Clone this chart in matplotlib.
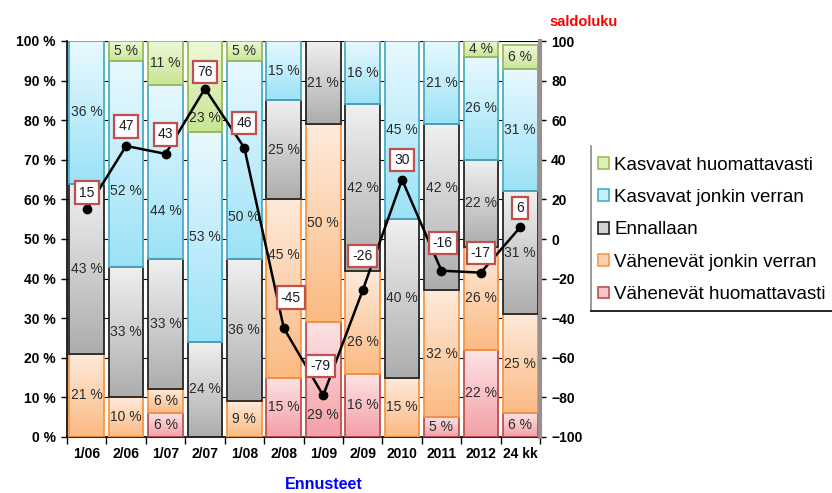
import numpy as np
import matplotlib.pyplot as plt
from matplotlib.colors import to_rgb
from matplotlib.patches import Patch
from matplotlib.lines import Line2D

plt.rcParams['font.family'] = ['Liberation Sans', 'DejaVu Sans']

periods = ['1/06', '2/06', '1/07', '2/07', '1/08', '2/08', '1/09', '2/09',
           '2010', '2011', '2012', '24 kk']

# answer shares in %, stacked from the bottom up
vah_huom = [0, 0, 6, 0, 0, 15, 29, 16, 0, 5, 22, 6]
vah_jonk = [21, 10, 6, 0, 9, 45, 50, 26, 15, 32, 26, 25]
ennallaan = [43, 33, 33, 24, 36, 25, 21, 42, 40, 42, 22, 31]
kas_jonk = [36, 52, 44, 53, 50, 15, 0, 16, 45, 21, 26, 31]
kas_huom = [0, 5, 11, 23, 5, 0, 0, 0, 0, 0, 4, 6]

# balance figure (saldoluku), right axis
saldo = [15, 47, 43, 76, 46, -45, -79, -26, 30, -16, -17, 6]

# name, values, gradient top, gradient bottom, edge, legend face
series = [
    ('Vähenevät huomattavasti', vah_huom, '#fde3e5', '#f3a0a6', '#c0504d', '#f7c3c6'),
    ('Vähenevät jonkin verran', vah_jonk, '#feeadb', '#fbba82', '#f79646', '#fcd2ad'),
    ('Ennallaan', ennallaan, '#f0f0f0', '#adadad', '#262626', '#d2d2d2'),
    ('Kasvavat jonkin verran', kas_jonk, '#e8f9fe', '#9ce2f7', '#4bacc6', '#c3eefb'),
    ('Kasvavat huomattavasti', kas_huom, '#eef9d8', '#c8e594', '#9bbb59', '#dcf1b6'),
]

# label nudges for the balance boxes (points)
label_dx = [0, 0, 0, 0, 0, 5, -2, 0, 0, 1, 0, 0]
label_dy = [12, 14, 14, 12, 18, 22, 21, 25, 14, 20, 14, 14]
# segment labels moved off the line (series index, period index) -> shift in %
seg_shift = {(3, 1): -7, (3, 2): -10, (3, 4): -14.5, (4, 3): -8,
             (1, 5): 8.5, (1, 7): -5, (0, 6): -9, (2, 9): 5}

fig = plt.figure(figsize=(8.32, 4.93), dpi=100)
ax = fig.add_axes([67 / 832, 1 - 437 / 493, 473 / 832, 396 / 493])
x = np.arange(len(periods))
w = 0.88


def gradient(c_top, c_bot, n=64):
    t = np.linspace(0, 1, n)[:, None]
    top = np.array(to_rgb(c_top))
    bot = np.array(to_rgb(c_bot))
    return (bot * (1 - t) + top * t)[:, None, :]


bottom = np.zeros(len(periods))
for k, (name, vals, c_top, c_bot, edge, face) in enumerate(series):
    vals = np.array(vals, dtype=float)
    img = gradient(c_top, c_bot)
    for i, v in enumerate(vals):
        if v <= 0:
            continue
        ax.imshow(img, extent=(x[i] - w / 2, x[i] + w / 2, bottom[i], bottom[i] + v),
                  origin='lower', aspect='auto', interpolation='bilinear', zorder=2)
        ax.text(x[i], bottom[i] + v / 2 + seg_shift.get((k, i), 0), f'{int(v)} %',
                ha='center', va='center', fontsize=10, color='#2b2b2b', zorder=4)
    ax.bar(x[vals > 0], vals[vals > 0], bottom=bottom[vals > 0], width=w,
           facecolor='none', edgecolor=edge, linewidth=1.3, zorder=3)
    bottom += vals

ax.set_xlim(-0.5, len(periods) - 0.5)
ax.set_ylim(0, 100)
ax.set_yticks(np.arange(0, 101, 10))
ax.set_yticklabels([f'{v} %' for v in range(0, 101, 10)])
ax.set_axisbelow(True)
ax.yaxis.grid(True, color='black', linewidth=0.8)
ax.set_xticks(x)
ax.set_xticklabels(periods)
ax.set_xticks(np.arange(-0.5, len(periods), 1), minor=True)
ax.tick_params(axis='x', which='major', length=0, pad=7)
ax.tick_params(axis='x', which='minor', length=5, width=1, direction='out')
ax.tick_params(axis='y', length=4, width=1, direction='out', pad=4)
for lab in ax.get_xticklabels() + ax.get_yticklabels():
    lab.set_fontweight('bold')
    lab.set_fontsize(10)
ax.spines['top'].set_visible(False)
ax.spines['right'].set_visible(False)
ax.spines['left'].set_linewidth(1.2)
ax.spines['bottom'].set_linewidth(1.2)

ax2 = ax.twinx()
ax2.set_ylim(-100, 100)
ax2.set_yticks(np.arange(-100, 101, 20))
ax2.tick_params(axis='y', length=4, width=1, direction='out', pad=4)
for lab in ax2.get_yticklabels():
    lab.set_fontweight('bold')
    lab.set_fontsize(10)
for s in ['top', 'left', 'bottom']:
    ax2.spines[s].set_visible(False)
ax2.spines['right'].set_color('#9a9090')
ax2.spines['right'].set_linewidth(3)

ax2.plot(x, saldo, color='black', linewidth=1.8, marker='o', markersize=6, zorder=5)
for i, v in enumerate(saldo):
    ax2.annotate(str(v), (x[i], v), xytext=(label_dx[i], label_dy[i]),
                 textcoords='offset points', ha='center', va='center', fontsize=10,
                 color='#1a1a1a', zorder=6,
                 bbox=dict(boxstyle='square,pad=0.3', facecolor='white',
                           edgecolor='#c0504d', linewidth=1.6))

fig.text(549 / 832, 1 - 22 / 493, 'saldoluku', color='red', fontsize=10.5,
         fontweight='bold', ha='left', va='center')
fig.text(324 / 832, 1 - 477 / 493, 'Ennusteet', color='#0000ff', fontsize=11.5,
         fontweight='bold', ha='center', va='top')

handles = [Patch(facecolor=face, edgecolor=edge, linewidth=1.2, label=name)
           for name, vals, c_top, c_bot, edge, face in series[::-1]]
fig.legend(handles=handles, loc='upper left', bbox_to_anchor=(592 / 832, 1 - 151 / 493),
           frameon=False, fontsize=13.5, handlelength=0.6, handleheight=0.6,
           handletextpad=0.3, labelspacing=0.82, borderaxespad=0, borderpad=0.3)
fig.add_artist(Line2D([591 / 832, 591 / 832], [1 - 146 / 493, 1 - 311 / 493],
                      transform=fig.transFigure, color='#8a8a8a', linewidth=1.2))
fig.add_artist(Line2D([591 / 832, 1.0], [1 - 311 / 493, 1 - 311 / 493],
                      transform=fig.transFigure, color='black', linewidth=1.2))

fig.savefig('out.png', dpi=100)
